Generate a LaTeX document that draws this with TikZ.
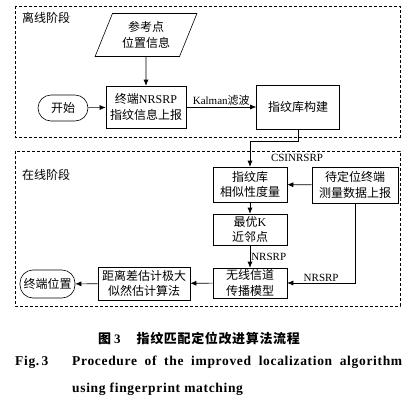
\documentclass[tikz,border=0pt]{standalone}
\usepackage{fontspec}
\setmainfont{Liberation Serif}
\newfontfamily\cjk{Noto Sans CJK SC}
\usetikzlibrary{shapes.geometric,arrows.meta,positioning}
\newcommand\entext[1]{{\rmfamily #1}}

\begin{document}
\begin{tikzpicture}[x=1pt, y=-1pt,
    proc/.style={draw, line width=0.6pt, align=center, inner sep=0pt,
        font=\cjk\fontsize{12}{15.5}\selectfont},
    term/.style={proc, rounded corners=13pt},
    phase/.style={line width=0.6pt, dash pattern=on 3pt off 2pt},
    flow/.style={-{Latex[length=6pt,width=5pt]}, line width=0.6pt},
    lbl/.style={font=\fontsize{11}{12}\selectfont, inner sep=1pt},
    capt/.style={anchor=west, inner sep=0pt, font=\bfseries\fontsize{13.5}{15}\selectfont}]
    \useasboundingbox (0,0) rectangle (410,405);

    % Offline stage
    \draw[phase] (15,6) rectangle (400,137);
    \node[anchor=west, inner sep=0pt, font=\cjk\fontsize{12}{14}\selectfont] (offline) at (22,18) {离线阶段};

    \node[proc, trapezium, trapezium left angle=65, trapezium right angle=115,
        trapezium stretches=true, minimum width=102pt, minimum height=43pt] (refinfo) at (146,35) {参考点\\位置信息};
    \node[proc, minimum width=80pt, minimum height=42pt] (report) at (146,107) {终端\entext{NRSRP}\\指纹信息上报};
    \node[term, minimum width=50pt, minimum height=26pt] (start) at (63,108) {开始};
    \node[proc, minimum width=83pt, minimum height=44pt] (build) at (298,107) {指纹库构建};

    \draw[flow] (refinfo.south) -- (report.north);
    \draw[flow] (start) -- (report);
    \draw[flow] (report) -- node[lbl, above] (kalman) {Kalman{\cjk 滤波}} (build);

    % Online stage
    \draw[phase] (15,151) rectangle (400,306);
    \node[anchor=west, inner sep=0pt, font=\cjk\fontsize{12}{14}\selectfont] (online) at (22,175) {在线阶段};

    \node[proc, minimum width=74pt, minimum height=35pt] (simil) at (250,184.5) {指纹库\\相似性度量};
    \node[proc, minimum width=86pt, minimum height=36pt] (pending) at (355,185) {待定位终端\\测量数据上报};
    \node[proc, minimum width=74pt, minimum height=31pt] (knn) at (250,229.5) {最优\entext{K}\\近邻点};
    \node[proc, minimum width=74pt, minimum height=30pt] (channel) at (250,283) {无线信道\\传播模型};
    \node[proc, minimum width=92pt, minimum height=33pt] (mlest) at (144,283.5) {距离差估计极大\\似然估计算法};
    \node[term, minimum width=55pt, minimum height=28pt] (finish) at (47.5,284) {终端位置};

    \draw[flow] (build.south) -- ++(0,12) -| (simil.north);
    \node[lbl] (csilbl) at (297,158) {CSINRSRP};
    \draw[flow] (pending) -- (simil);
    \draw[flow] (simil) -- (knn);
    \draw[flow] (knn) -- node[lbl, right] (nrsrpa) {NRSRP} (channel);
    \draw[flow] (pending.south) |- node[lbl, above, pos=0.75] (nrsrpb) {NRSRP} (channel.east);
    \draw[flow] (channel) -- (mlest);
    \draw[flow] (mlest) -- (finish);

    % Caption
    \node[anchor=west, inner sep=0pt, font=\cjk\bfseries\fontsize{13}{14}\selectfont] (capzh) at (98,338)
        {图 \entext{\bfseries 3}\hspace{16pt}{\addfontfeature{LetterSpace=5}指纹匹配定位改进算法流程}};
    \node[capt] (capfig) at (15,362) {\addfontfeature{LetterSpace=5}Fig.\,3};
    \node[capt] (capen) at (72,362)
        {\addfontfeature{LetterSpace=5}\makebox[330pt][s]{Procedure of the improved localization algorithm}};
    \node[capt] (capen2) at (72,389)
        {\addfontfeature{LetterSpace=5}using fingerprint matching};
\end{tikzpicture}
\end{document}
